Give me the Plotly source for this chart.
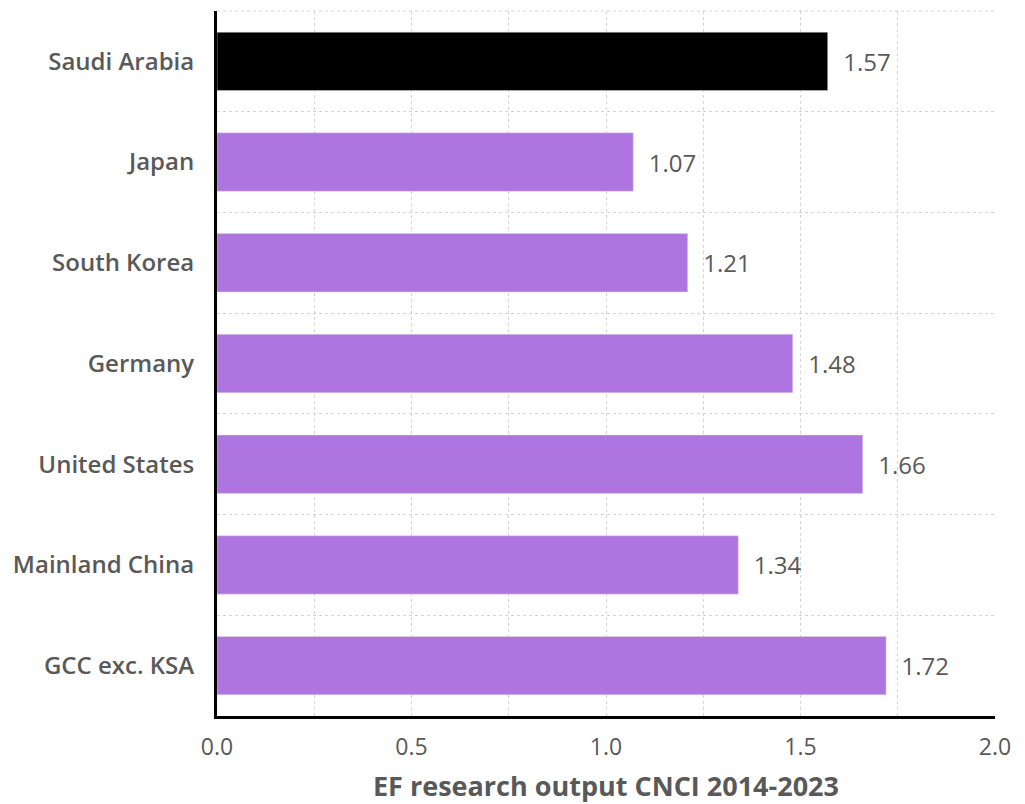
import plotly.graph_objects as go

categories = ["Saudi Arabia", "Japan", "South Korea", "Germany",
              "United States", "Mainland China", "GCC exc. KSA"]
values = [1.57, 1.07, 1.21, 1.48, 1.66, 1.34, 1.72]
highlight = "Saudi Arabia"
x_ticks = [0.0, 0.5, 1.0, 1.5, 2.0]
x_title = "EF research output CNCI 2014-2023"

PURPLE = "#AE75E0"
colors = ["#000000" if c == highlight else PURPLE for c in categories]
GREY = "#595959"
GRID = "#d4d4d4"
FONT = "Open Sans"

fig = go.Figure(go.Bar(
    x=values, y=categories, orientation="h",
    marker=dict(color=colors, line=dict(color="#dddddd", width=0.5)),
    text=values, texttemplate="  %{x:.2f}", textposition="outside",
    textfont=dict(family=FONT, size=24, color=GREY),
    cliponaxis=False, width=0.58,
))

# page body has an 8px default margin, so the figure is sized to fit the window
fig.update_layout(
    width=1017, height=796,
    margin=dict(l=209, r=30, t=3, b=88),
    plot_bgcolor="white", paper_bgcolor="white",
    showlegend=False,
    font=dict(family=FONT, color=GREY),
    shapes=[dict(type="line", xref="paper", yref="paper", x0=0, x1=1, y0=1, y1=1,
                 line=dict(color=GRID, width=1.2, dash="dot"), layer="between")],
)
fig.update_xaxes(
    range=[0, 2.0], tickvals=x_ticks, ticktext=[f"{v:.1f}" for v in x_ticks],
    tickfont=dict(family=FONT, size=23, color=GREY),
    showgrid=True, gridcolor=GRID, griddash="dot", gridwidth=1.2,
    minor=dict(dtick=0.25, showgrid=True, gridcolor=GRID, griddash="dot", gridwidth=1.2),
    showline=True, linecolor="black", linewidth=3,
    zeroline=False, ticks="", ticklen=0, automargin=False, ticklabelstandoff=8,
    title=dict(text=x_title, font=dict(family=FONT, size=27, color=GREY, weight="bold"), standoff=18),
)
fig.update_yaxes(
    type="category", range=[6.5, -0.5], tickson="boundaries",
    tickfont=dict(family=FONT, size=24, color=GREY, weight=600),
    showgrid=True, gridcolor=GRID, griddash="dot", gridwidth=1.2,
    showline=True, linecolor="black", linewidth=3,
    ticks="", ticklen=0, ticklabelstandoff=15, automargin=False,
    zeroline=False,
)

fig.write_html("out.html")
